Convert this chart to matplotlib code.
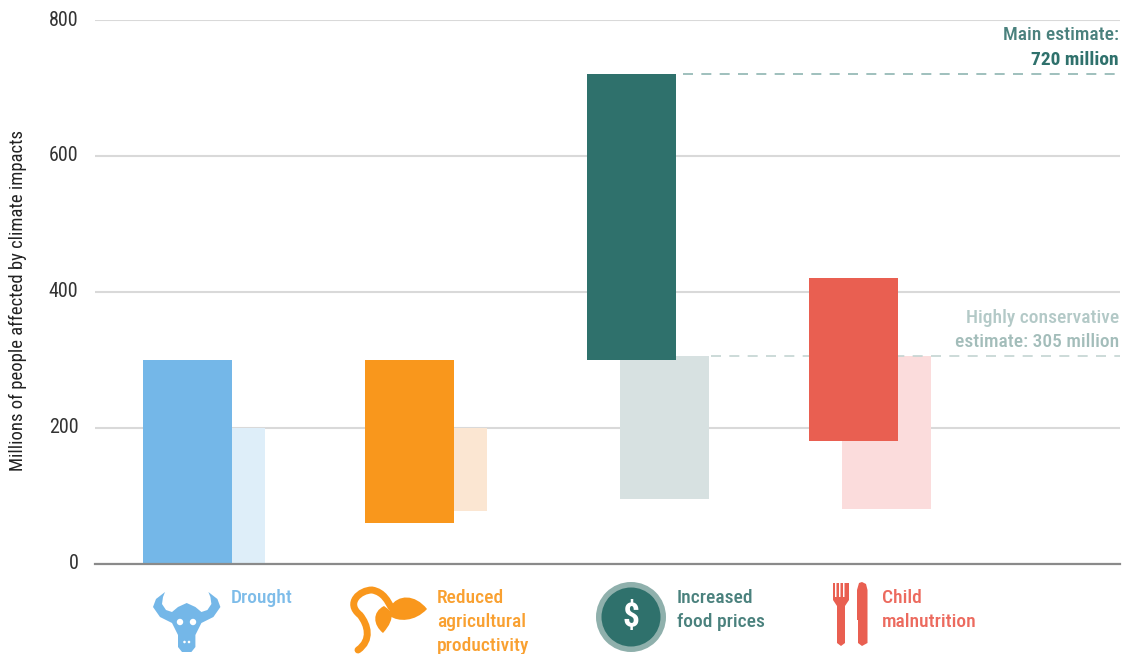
import numpy as np
import matplotlib
matplotlib.use('Agg')
import matplotlib.pyplot as plt
from matplotlib.patches import Polygon, Circle, PathPatch
from matplotlib.path import Path

plt.rcParams['font.family'] = ['Roboto Condensed', 'Liberation Sans', 'DejaVu Sans']

# --- Data ---
labels = ['Drought', 'Reduced\nagricultural\nproductivity', 'Increased\nfood prices', 'Child\nmalnutrition']
main_low = [0, 60, 300, 180]
main_high = [300, 300, 720, 420]
cons_low = [0, 78, 95, 80]
cons_high = [200, 200, 305, 305]
main_colors = ['#74b7e8', '#f9971c', '#2f716c', '#e95f51']
cons_colors = ['#deeef9', '#fbe6d2', '#d7e1e1', '#fbdcdc']
text_colors = ['#7dbce9', '#f9a030', '#4a817d', '#ec6a5e']
yticks = [0, 200, 400, 600, 800]
main_estimate = 720
cons_estimate = 305

W, H = 1124, 654
fig = plt.figure(figsize=(W / 100, H / 100), dpi=100)

# axes box in pixels
left, right, top, bottom = 95, 1120, 20, 563.5
ax = fig.add_axes([left / W, 1 - bottom / H, (right - left) / W, (bottom - top) / H])
ax.set_xlim(-0.4167, 4.2)
ax.set_ylim(0, 800)

x = np.arange(len(labels))
bw = 0.4
off = 0.15

ax.bar(x + off, np.array(cons_high) - np.array(cons_low), bw, bottom=cons_low, color=cons_colors, zorder=2)
ax.bar(x, np.array(main_high) - np.array(main_low), bw, bottom=main_low, color=main_colors, zorder=3)

ax.set_yticks(yticks)
ax.set_xticks([])
ax.grid(axis='y', color='#d9d9d9', lw=1.5, zorder=1)
ax.set_axisbelow(True)
for s in ['top', 'left', 'right']:
    ax.spines[s].set_visible(False)
ax.spines['bottom'].set_color('#8a8a8a')
ax.spines['bottom'].set_linewidth(1.6)
ax.spines['bottom'].set_zorder(5)
ax.tick_params(axis='y', length=0, pad=12, labelsize=14.5, labelcolor='#333333')
for t in ax.get_yticklabels():
    t.set_verticalalignment('center')
ax.set_ylabel('Millions of people affected by climate impacts', fontsize=13.4, color='#222222')
ax.yaxis.set_label_coords((27 - left) / (right - left), 0.483)

# dashed estimate lines
ax.plot([2.23, 4.2], [main_estimate] * 2, color='#8fb5b1', lw=1.2, dashes=(6, 5), zorder=2)
ax.plot([2.36, 4.2], [cons_estimate] * 2, color='#c4d4d2', lw=1.2, dashes=(6, 5), zorder=2)

# overlay in pixel coordinates for annotations and icons
ov = fig.add_axes([0, 0, 1, 1])
ov.set_xlim(0, W)
ov.set_ylim(H, 0)
ov.axis('off')
ov.patch.set_alpha(0)

ts = 14
ov.text(1119, 35, 'Main estimate:', ha='right', va='center', fontsize=ts, color='#4a817d', fontweight=500)
ov.text(1119, 60, '720 million', ha='right', va='center', fontsize=ts, color='#2f716c', fontweight=700)
ov.text(1119, 318, 'Highly conservative', ha='right', va='center', fontsize=ts, color='#b3c9c7', fontweight=500)
ov.text(1119, 342, 'estimate: 305 million', ha='right', va='center', fontsize=ts, color='#a3bdba', fontweight=500)

label_x = [231, 437, 677, 882]
for lx, lab, c in zip(label_x, labels, text_colors):
    for j, line in enumerate(lab.split('\n')):
        ov.text(lx, 598 + j * 24, line, ha='left', va='center', fontsize=ts, color=c, fontweight=500, clip_on=True)

# bull icon
cx = 186.7
outer = [(165, 592), (156, 599), (153, 607), (160, 617), (172, 623), (178, 635), (178, 647), (182, 652), (cx, 652)]
inner = [(cx, 603), (178, 607), (172, 612), (166, 610), (162, 604), (163, 597)]
mirror = lambda pts: [(2 * cx - a, b) for a, b in pts]
bull = outer + mirror(outer)[::-1][1:] + mirror(inner)[::-1] + inner[1:]
c0 = main_colors[0]
ov.add_patch(Polygon(bull, closed=True, color=c0, lw=0))
for ex, ey, er in [(180, 622, 3.2), (193, 622, 3.2), (184.5, 642, 1.3), (189, 642, 1.3)]:
    ov.add_patch(Circle((ex, ey), er, color='white', lw=0))

# sprout icon
c1 = main_colors[1]
verts = [(358, 650), (372, 640), (368, 625), (360, 615), (345, 603), (360, 590), (372, 590), (384, 592), (388, 602), (391, 607)]
codes = [Path.MOVETO] + [Path.CURVE4] * 9
ov.add_patch(PathPatch(Path(verts, codes), fill=False, ec=c1, lw=5, capstyle='round'))
ov.add_patch(PathPatch(Path([(390, 607), (398, 594), (415, 594), (427, 609), (415, 622), (398, 622), (390, 616)],
                            [Path.MOVETO] + [Path.CURVE4] * 6), fc=c1, ec='none'))
ov.add_patch(PathPatch(Path([(384, 606), (372, 612), (373, 625), (383, 633), (390, 625), (392, 620), (392, 612)],
                            [Path.MOVETO] + [Path.CURVE4] * 6), fc=c1, ec='none'))

# dollar icon
ov.add_patch(Circle((631, 617), 35, color='#8fb0ac', lw=0))
ov.add_patch(Circle((631, 617), 29.5, color=main_colors[2], lw=0))
ov.text(631, 617, '$', ha='center', va='center', color='white', fontsize=24, fontweight=700)

# fork and knife icon
c3 = main_colors[3]
fork = [(833, 583), (835, 583), (835, 597), (836.5, 597), (836.5, 583), (839, 583), (839, 597), (840.5, 597),
        (840.5, 583), (843, 583), (843, 597), (844.5, 597), (844.5, 583), (849, 583), (849, 600), (845, 606),
        (845, 643), (841, 646), (837, 643), (837, 606), (833, 600)]
ov.add_patch(Polygon(fork, closed=True, color=c3, lw=0))
knife = [(857, 590), (859, 583), (862, 582), (866, 584), (867.5, 590), (867.5, 643), (862, 646), (858, 643), (858, 620), (857, 620)]
ov.add_patch(Polygon(knife, closed=True, color=c3, lw=0))

fig.savefig('out.png', dpi=100)
